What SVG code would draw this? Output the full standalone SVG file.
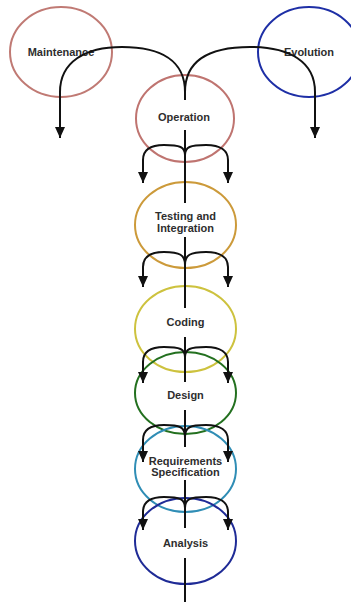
<svg xmlns="http://www.w3.org/2000/svg" width="351" height="602" viewBox="0 0 351 602">
<style>
.n{fill:none;stroke-width:2}
.t{font-family:"Liberation Sans",Arial,sans-serif;font-weight:bold;font-size:11px;fill:#2e2e2e;text-anchor:middle}
.c{fill:none;stroke:#111;stroke-width:2}
</style>
<defs>
<marker id="ah" markerUnits="userSpaceOnUse" markerWidth="12" markerHeight="11" refX="11" refY="5.5" orient="auto">
<path d="M0,0.5 L11,5.5 L0,10.5 z" fill="#111"/>
</marker>
</defs>
<rect width="351" height="602" fill="#fff"/>
<g id="maintenance"><ellipse class="n" cx="61" cy="52" rx="51" ry="45" stroke="#c07a74"/><text class="t" x="61" y="56">Maintenance</text></g>
<g id="evolution"><ellipse class="n" cx="309" cy="52" rx="51" ry="45" stroke="#1e2fa6"/><text class="t" x="309" y="56">Evolution</text></g>
<g id="operation"><ellipse class="n" cx="185" cy="118.5" rx="49" ry="43.5" stroke="#bf7470"/><text class="t" x="184" y="121">Operation</text></g>
<g id="testing"><ellipse class="n" cx="185.5" cy="225" rx="50.5" ry="43" stroke="#cc9a3a"/><text class="t" x="185.5" y="220">Testing and</text><text class="t" x="185.5" y="232">Integration</text></g>
<g id="coding"><ellipse class="n" cx="185.5" cy="329" rx="50.5" ry="43" stroke="#cdc23e"/><text class="t" x="185.5" y="326">Coding</text></g>
<g id="design"><ellipse class="n" cx="185.5" cy="393" rx="50.5" ry="41" stroke="#23701f"/><text class="t" x="185.5" y="399">Design</text></g>
<g id="requirements"><ellipse class="n" cx="185.5" cy="469" rx="50.5" ry="43" stroke="#2f8db5"/><text class="t" x="185.5" y="465">Requirements</text><text class="t" x="185.5" y="476">Specification</text></g>
<g id="analysis"><ellipse class="n" cx="185.5" cy="541" rx="50.5" ry="43" stroke="#1f2b96"/><text class="t" x="185.5" y="547">Analysis</text></g>
<g id="connectors">
<path class="c" d="M185,90 L185,100 M185,130 L185,203 M185,237 L185,308 M185,337 L185,382 M185,410 L185,447 M185,480 L185,528 M185,558 L185,602"/>
<path class="c" marker-end="url(#ah)" d="M185,92 C185,60 160,47 122,47 C85,47 60,62 60,92 L60,138"/>
<path class="c" marker-end="url(#ah)" d="M185,92 C185,60 210,47 250,47 C290,47 315,62 315,92 L315,138"/>
<path class="c" marker-end="url(#ah)" d="M185,155 C185,147 180,145 164,145 C149,145 143,151 143,160 L143,183"/>
<path class="c" marker-end="url(#ah)" d="M185,155 C185,147 190,145 206,145 C221,145 228,151 228,160 L228,183"/>
<path class="c" marker-end="url(#ah)" d="M185,265 C185,255 180,252 164,252 C149,252 143,258 143,267 L143,287"/>
<path class="c" marker-end="url(#ah)" d="M185,265 C185,255 190,252 206,252 C221,252 228,258 228,267 L228,287"/>
<path class="c" marker-end="url(#ah)" d="M185,357 C185,349 180,347 164,347 C149,347 143,353 143,362 L143,383"/>
<path class="c" marker-end="url(#ah)" d="M185,357 C185,349 190,347 206,347 C221,347 228,353 228,362 L228,383"/>
<path class="c" marker-end="url(#ah)" d="M185,437 C185,427 180,425 164,425 C149,425 143,431 143,440 L143,462"/>
<path class="c" marker-end="url(#ah)" d="M185,437 C185,427 190,425 206,425 C221,425 228,431 228,440 L228,462"/>
<path class="c" marker-end="url(#ah)" d="M185,508 C185,499 180,497 164,497 C149,497 143,503 143,512 L143,530"/>
<path class="c" marker-end="url(#ah)" d="M185,508 C185,499 190,497 206,497 C221,497 228,503 228,512 L228,530"/>
</g>
</svg>
